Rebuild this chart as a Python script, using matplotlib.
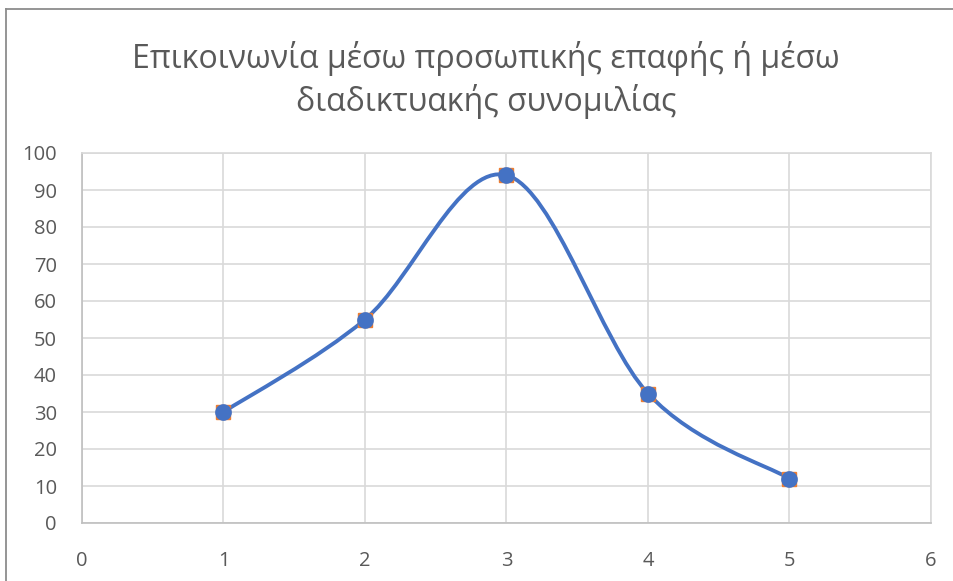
import matplotlib.pyplot as plt
from matplotlib.path import Path
from matplotlib.patches import PathPatch
from matplotlib.lines import Line2D

# data
x_vals = [1, 2, 3, 4, 5]
y_vals = [30, 55, 94, 35, 12]
title = "Επικοινωνία μέσω προσωπικής επαφής ή μέσω\nδιαδικτυακής συνομιλίας"
x_ticks = [0, 1, 2, 3, 4, 5, 6]
y_ticks = [0, 10, 20, 30, 40, 50, 60, 70, 80, 90, 100]

plt.rcParams['font.family'] = ['Open Sans', 'DejaVu Sans']

fig = plt.figure(figsize=(9.54, 5.81), dpi=100)
ax = fig.add_axes([82/954, 58/581, 849/954, 370/581])

# Excel-style smooth line: cubic bezier, control points from neighbours
verts = [(x_vals[0], y_vals[0])]
codes = [Path.MOVETO]
n = len(x_vals)
for i in range(n - 1):
    p0 = (x_vals[max(i-1, 0)], y_vals[max(i-1, 0)])
    p1 = (x_vals[i], y_vals[i])
    p2 = (x_vals[i+1], y_vals[i+1])
    p3 = (x_vals[min(i+2, n-1)], y_vals[min(i+2, n-1)])
    c1 = (p1[0] + (p2[0] - p0[0]) / 6, p1[1] + (p2[1] - p0[1]) / 6)
    c2 = (p2[0] - (p3[0] - p1[0]) / 6, p2[1] - (p3[1] - p1[1]) / 6)
    verts += [c1, c2, p2]
    codes += [Path.CURVE4] * 3
ax.add_patch(PathPatch(Path(verts, codes), facecolor='none', edgecolor='#4472C4',
                       lw=2.8, capstyle='round', zorder=3))

ax.plot(x_vals, y_vals, 's', color='#ED7D31', ms=10, zorder=4)
ax.plot(x_vals, y_vals, 'o', color='#4472C4', ms=11, zorder=5)

ax.set_xlim(0, 6)
ax.set_ylim(0, 100)
ax.set_xticks(x_ticks)
ax.set_yticks(y_ticks)
ax.grid(True, color='#D9D9D9', lw=1.2)
ax.set_axisbelow(True)
for s in ax.spines.values():
    s.set_color('#D9D9D9')
    s.set_linewidth(1.2)
ax.spines['left'].set_color('#BFBFBF')
ax.spines['bottom'].set_color('#BFBFBF')
ax.tick_params(length=0, labelsize=14.5, labelcolor='#595959')
ax.tick_params(axis='y', pad=18)
ax.tick_params(axis='x', pad=20)

fig.text(486/954, 1 - 80/581, title, ha='center', va='center', fontsize=23,
         color='#595959', linespacing=1.3)

# chart frame (left and top edge visible)
fig.add_artist(Line2D([6.5/954, 6.5/954], [0, 1 - 9/581], transform=fig.transFigure,
                      color='#8C8C8C', lw=1.3))
fig.add_artist(Line2D([6.5/954, 1], [1 - 9/581, 1 - 9/581], transform=fig.transFigure,
                      color='#8C8C8C', lw=1.3))

fig.savefig('out.png', dpi=100)
